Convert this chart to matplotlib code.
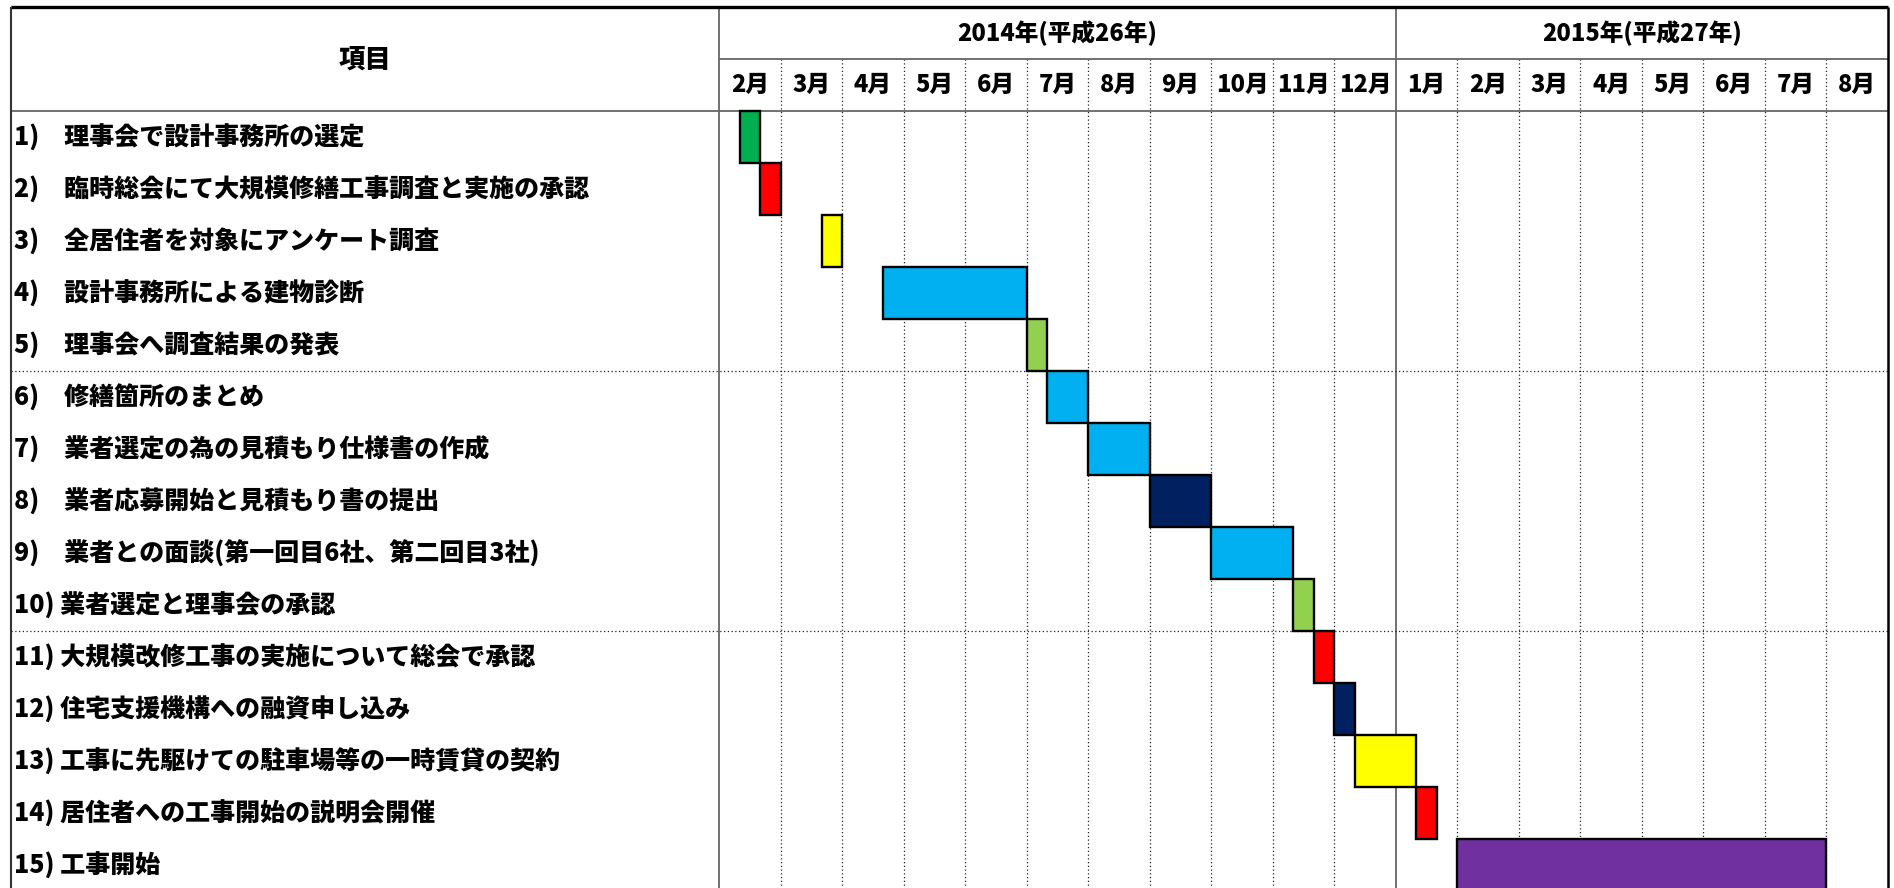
import numpy as np
import matplotlib.pyplot as plt

plt.rcParams['font.family'] = ['Noto Sans CJK JP', 'DejaVu Sans']

# schedule items, bar start / length counted in thirds of a month from 2014-02
tasks = [
    '1)　理事会で設計事務所の選定',
    '2)　臨時総会にて大規模修繕工事調査と実施の承認',
    '3)　全居住者を対象にアンケート調査',
    '4)　設計事務所による建物診断',
    '5)　理事会へ調査結果の発表',
    '6)　修繕箇所のまとめ',
    '7)　業者選定の為の見積もり仕様書の作成',
    '8)　業者応募開始と見積もり書の提出',
    '9)　業者との面談(第一回目6社、第二回目3社)',
    '10) 業者選定と理事会の承認',
    '11) 大規模改修工事の実施について総会で承認',
    '12) 住宅支援機構への融資申し込み',
    '13) 工事に先駆けての駐車場等の一時賃貸の契約',
    '14) 居住者への工事開始の説明会開催',
    '15) 工事開始',
]
start_thirds = [1, 2, 5, 8, 15, 16, 18, 21, 24, 28, 29, 30, 31, 34, 36]
length_thirds = [1, 1, 1, 7, 1, 2, 3, 3, 4, 1, 1, 1, 3, 1, 18]
colors = ['#00B050', '#FF0000', '#FFFF00', '#00B0F0', '#92D050',
          '#00B0F0', '#00B0F0', '#002060', '#00B0F0', '#92D050',
          '#FF0000', '#002060', '#FFFF00', '#FF0000', '#7030A0']
months = ['2月', '3月', '4月', '5月', '6月', '7月', '8月', '9月', '10月', '11月', '12月',
          '1月', '2月', '3月', '4月', '5月', '6月', '7月', '8月']
years = ['2014年(平成26年)', '2015年(平成27年)']
months_per_year = [11, 8]

W, H = 1894, 888
fig = plt.figure(figsize=(W / 100, H / 100), dpi=100)
left_px, right_px, top_px = 11, 1888, 7
col_px = (right_px - 719) / len(months)
row_px = 52
ax = fig.add_axes([left_px / W, 0, (right_px - left_px) / W, (H - top_px) / H])
n_months = len(months)
label_w = -(719 - left_px) / col_px
bottom = (H - top_px) / row_px - 2
ax.set_xlim(label_w, n_months)
ax.set_ylim(bottom, -2)
ax.axis('off')

starts = np.array(start_thirds) / 3
widths = np.array(length_thirds) / 3
rows = np.arange(len(tasks)) + 0.5
ax.barh(rows, widths, left=starts, height=1.0, color=colors,
        edgecolor='black', linewidth=1.7, zorder=3)

gray = '#666666'
dot = (0, (1, 2))
# month grid
for m in range(1, n_months):
    if m == months_per_year[0]:
        ax.vlines(m, -2, bottom, color=gray, lw=1.3, zorder=2)
    else:
        ax.vlines(m, -1, bottom, color='#222222', lw=0.9, linestyle=dot, zorder=2)
ax.vlines(0, -2, bottom, color=gray, lw=1.3, zorder=2)
ax.hlines(-1, 0, n_months, color=gray, lw=1.3)
ax.hlines(0, label_w, n_months, color=gray, lw=1.3)
for r in [5, 10]:
    ax.hlines(r, label_w, n_months, color='#222222', lw=0.9, linestyle=dot, zorder=2)
# outer border
ax.hlines(-2, label_w, n_months, color='black', lw=2.4, clip_on=False)
ax.vlines(label_w, -2, bottom, color='#333333', lw=1.5, clip_on=False)
ax.vlines(n_months, -2, bottom, color='black', lw=1.8, clip_on=False)

# header
ax.text(label_w / 2, -1, '項目', ha='center', va='center', fontsize=19, fontweight='heavy')
for i, m in enumerate(months):
    ax.text(i + 0.5, -0.5, m, ha='center', va='center', fontsize=17, fontweight='heavy')
x0 = 0
for y, n in zip(years, months_per_year):
    ax.text(x0 + n / 2, -1.5, y, ha='center', va='center', fontsize=17, fontweight='heavy')
    x0 += n

for i, t in enumerate(tasks):
    ax.text(label_w + 3 / col_px, i + 0.5, t, ha='left', va='center',
            fontsize=18, fontweight='heavy')

fig.savefig('out.png', dpi=100)
